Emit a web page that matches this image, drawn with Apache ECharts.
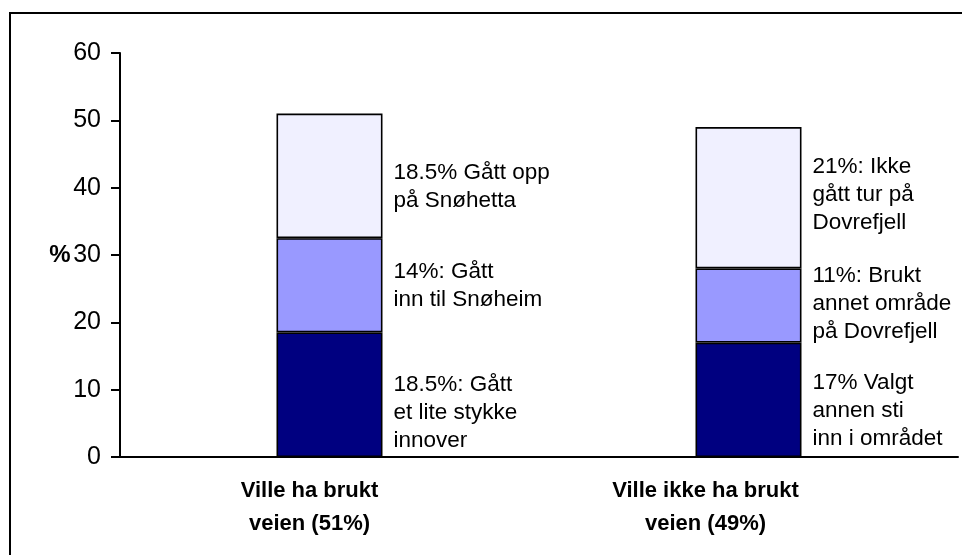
<!DOCTYPE html>
<html>
<head>
<meta charset="utf-8">
<script src="https://cdn.jsdelivr.net/npm/echarts@6/dist/echarts.min.js"></script>
<style>
html,body{margin:0;padding:0;background:#fff;}
#chart{width:962px;height:555px;}
</style>
</head>
<body>
<div id="chart"></div>
<script>
// ---- data ----
const categories = ['Ville ha brukt\nveien (51%)', 'Ville ikke ha brukt\nveien (49%)'];
const segBottom = [18.5, 17];
const segMiddle = [14, 11];
const segTop = [18.5, 21];
const labelsBottom = ['18.5%: Gått\net lite stykke\ninnover', '17% Valgt\nannen sti\ninn i området'];
const labelsMiddle = ['14%: Gått\ninn til Snøheim', '11%: Brukt\nannet område\npå Dovrefjell'];
const labelsTop = ['18.5% Gått opp\npå Snøhetta', '21%: Ikke\ngått tur på\nDovrefjell'];
const yTickLabels = ['0', '10', '20', '30', '40', '50', '60'];
const yAxisName = '%';

// ---- styling ----
const FONT = '"Liberation Sans", Arial, sans-serif';
const colors = { bottom: '#000080', middle: '#9999FF', top: '#F0F0FF' };
const labelShiftBottom = [18, 11];
const labelShiftMiddle = [0, -2];
const labelShiftTop = [11, -3];
const catLabelPad = [40, 86];

function makeSeries(name, values, labels, shifts, color) {
  return {
    name: name,
    type: 'bar',
    stack: 'total',
    barWidth: 106,
    itemStyle: { color: color, borderColor: '#000', borderWidth: 1.6 },
    label: {
      show: true,
      position: 'right',
      distance: 11,
      fontFamily: FONT,
      fontSize: 22.5,
      lineHeight: 28,
      color: '#000'
    },
    data: values.map(function (v, i) {
      return {
        value: v,
        label: { formatter: labels[i], offset: [0, shifts[i]] }
      };
    })
  };
}

const chart = echarts.init(document.getElementById('chart'), null, { renderer: 'canvas' });
const yMax = Number(yTickLabels[yTickLabels.length - 1]);
const yStep = Number(yTickLabels[1]) - Number(yTickLabels[0]);

chart.setOption({
  animation: false,
  backgroundColor: '#fff',
  grid: { left: 120, right: 4, top: 53, bottom: 98, containLabel: false },
  graphic: [{
    type: 'rect',
    shape: { x: 10, y: 13, width: 1200, height: 1200 },
    style: { fill: 'none', stroke: '#000', lineWidth: 2 },
    silent: true
  }],
  xAxis: {
    type: 'category',
    data: categories,
    axisTick: { show: false },
    axisLine: { lineStyle: { color: '#000', width: 2 } },
    axisLabel: {
      margin: 17,
      interval: 0,
      formatter: function (val, idx) {
        return val.split('\n').map(function (line) { return '{c' + idx + '|' + line + '}'; }).join('\n');
      },
      rich: {
        c0: { fontFamily: FONT, fontSize: 22, fontWeight: 'bold', color: '#000', lineHeight: 33, padding: [0, catLabelPad[0], 0, 0] },
        c1: { fontFamily: FONT, fontSize: 22, fontWeight: 'bold', color: '#000', lineHeight: 33, padding: [0, catLabelPad[1], 0, 0] }
      }
    }
  },
  yAxis: {
    type: 'value',
    min: 0,
    max: yMax,
    interval: yStep,
    name: yAxisName,
    nameLocation: 'middle',
    nameRotate: 0,
    nameGap: 60,
    nameMoveOverlap: false,
    nameTextStyle: { fontFamily: FONT, fontSize: 24, fontWeight: 'bold', color: '#000', align: 'center', verticalAlign: 'middle' },
    splitLine: { show: false },
    axisLine: { show: true, lineStyle: { color: '#000', width: 2 } },
    axisTick: { show: true, length: 9, lineStyle: { color: '#000', width: 2 } },
    axisLabel: {
      margin: 19,
      fontFamily: FONT,
      fontSize: 25,
      color: '#000',
      formatter: function (v) { return yTickLabels[Math.round(v / yStep)]; }
    }
  },
  series: [
    makeSeries('bottom', segBottom, labelsBottom, labelShiftBottom, colors.bottom),
    makeSeries('middle', segMiddle, labelsMiddle, labelShiftMiddle, colors.middle),
    makeSeries('top', segTop, labelsTop, labelShiftTop, colors.top)
  ]
});
</script>
</body>
</html>
